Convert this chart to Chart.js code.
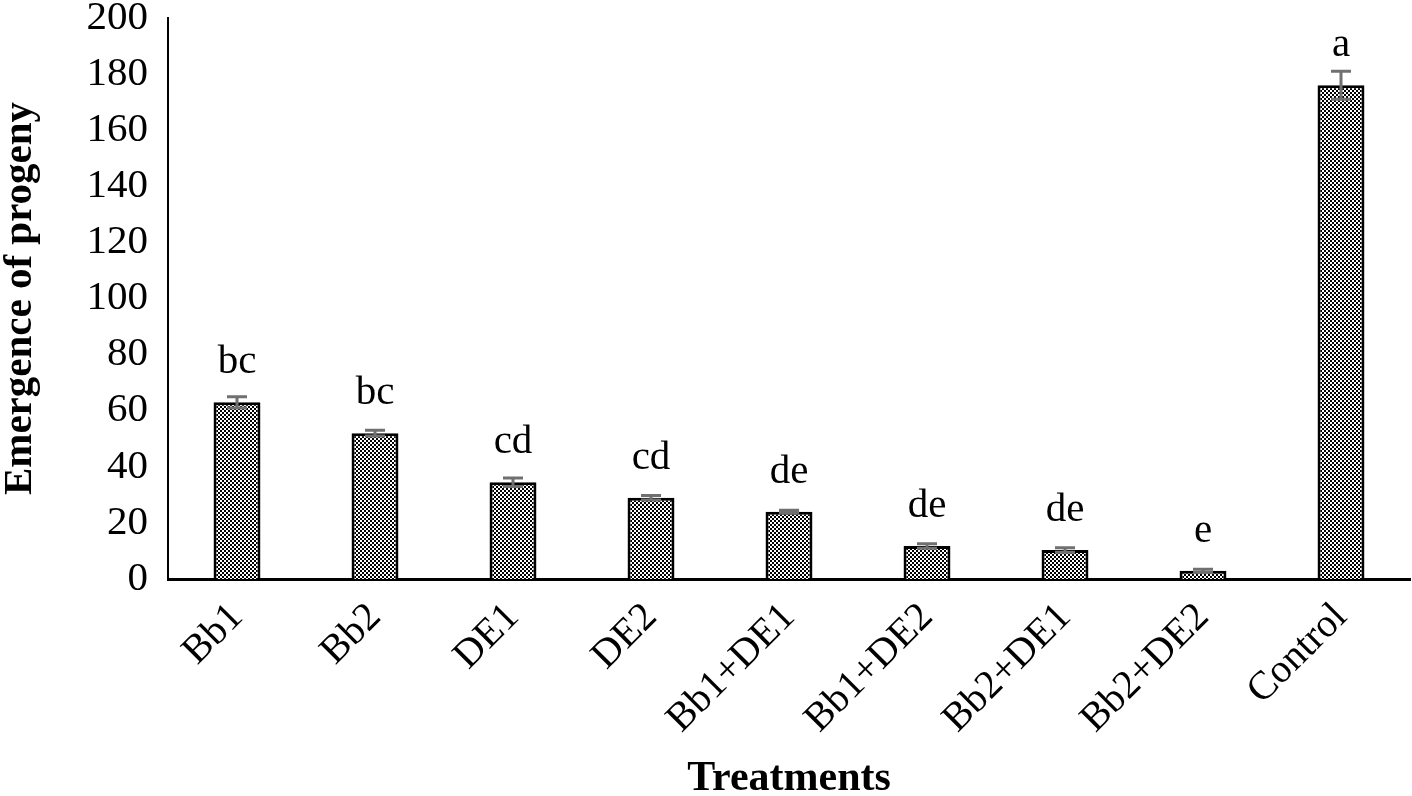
<!DOCTYPE html>
<html>
<head>
<meta charset="utf-8">
<script src="https://cdn.jsdelivr.net/npm/chart.js@4.4.1/dist/chart.umd.min.js"></script>
<style>
  html, body { margin: 0; padding: 0; background: #fff; }
  #wrap { width: 1412px; height: 796px; }
</style>
</head>
<body>
<div id="wrap"><canvas id="progenyChart" width="1412" height="796"></canvas></div>
<script>
// Data
const treatments = ['Bb1', 'Bb2', 'DE1', 'DE2', 'Bb1+DE1', 'Bb1+DE2', 'Bb2+DE1', 'Bb2+DE2', 'Control'];
const progeny = [63, 52, 34.5, 29, 24, 11.8, 10.3, 2.9, 176];
const stdErr = [2, 1, 1.5, 0.8, 0.5, 0.8, 0.8, 0.6, 5];
const groupLetters = ['bc', 'bc', 'cd', 'cd', 'de', 'de', 'de', 'e', 'a'];
const yTicks = [0, 20, 40, 60, 80, 100, 120, 140, 160, 180, 200];

const serif = '"Liberation Serif", "Times New Roman", serif';

// checkered fill like the Excel pattern
function makeChecker() {
    const c = document.createElement('canvas');
    c.width = 4; c.height = 4;
    const g = c.getContext('2d');
    g.fillStyle = '#000';
    g.fillRect(0, 0, 4, 4);
    g.fillStyle = '#fff';
    g.fillRect(0, 0, 2, 2);
    g.fillRect(2, 2, 2, 2);
    return g.createPattern(c, 'repeat');
}

// error bars + significance letters
const extrasPlugin = {
    id: 'extras',
    afterDatasetsDraw(chart) {
        const ctx = chart.ctx;
        const x = chart.scales.x, y = chart.scales.y;
        ctx.save();
        progeny.forEach((v, i) => {
            const px = x.getPixelForValue(i);
            const hi = y.getPixelForValue(v + stdErr[i]);
            const lo = y.getPixelForValue(v - stdErr[i]);
            ctx.strokeStyle = '#707070';
            ctx.lineWidth = 3;
            ctx.beginPath();
            ctx.moveTo(px, hi); ctx.lineTo(px, lo);
            ctx.moveTo(px - 10, hi); ctx.lineTo(px + 10, hi);
            ctx.moveTo(px - 10, lo); ctx.lineTo(px + 10, lo);
            ctx.stroke();

            ctx.fillStyle = '#000';
            ctx.font = '41px ' + serif;
            ctx.textAlign = 'center';
            ctx.textBaseline = 'alphabetic';
            ctx.fillText(groupLetters[i], px, y.getPixelForValue(v) - 29);
        });
        ctx.restore();
    }
};

const chart = new Chart(document.getElementById('progenyChart'), {
    type: 'bar',
    data: {
        labels: treatments,
        datasets: [{
            data: progeny,
            backgroundColor: makeChecker(),
            borderColor: '#000',
            borderWidth: 3,
            borderSkipped: 'bottom',
            categoryPercentage: 1,
            barPercentage: 0.34
        }]
    },
    options: {
        responsive: false,
        animation: false,
        layout: { padding: { top: 18, right: 2, left: 0, bottom: 0 } },
        plugins: {
            legend: { display: false },
            tooltip: { enabled: false }
        },
        scales: {
            x: {
                grid: { display: false, drawTicks: false },
                border: { color: '#000', width: 3 },
                ticks: {
                    color: '#000',
                    font: { family: serif, size: 40 },
                    maxRotation: 45,
                    minRotation: 45,
                    padding: 15,
                    autoSkip: false
                },
                title: {
                    display: true,
                    text: 'Treatments',
                    color: '#000',
                    font: { family: serif, size: 42, weight: 'bold', lineHeight: 1 },
                    padding: { top: 0, bottom: -4 }
                },
                afterFit(scale) {
                    scale.height = 217;
                    scale.paddingLeft = 0;
                    scale.paddingRight = 0;
                }
            },
            y: {
                min: 0,
                max: 200,
                grid: { display: false, drawTicks: false },
                border: { color: '#000', width: 2 },
                afterBuildTicks(scale) { scale.ticks = yTicks.map(v => ({ value: v })); },
                ticks: {
                    color: '#000',
                    font: { family: serif, size: 41 },
                    padding: 20
                },
                title: {
                    display: true,
                    text: 'Emergence of progeny',
                    color: '#000',
                    font: { family: serif, size: 41, weight: 'bold', lineHeight: 1 },
                    padding: { top: 0, bottom: 0 }
                },
                afterFit(scale) {
                    scale.width = 168;
                    scale.paddingTop = 0;
                    scale.paddingBottom = 0;
                }
            }
        }
    },
    plugins: [extrasPlugin]
});
</script>
</body>
</html>
